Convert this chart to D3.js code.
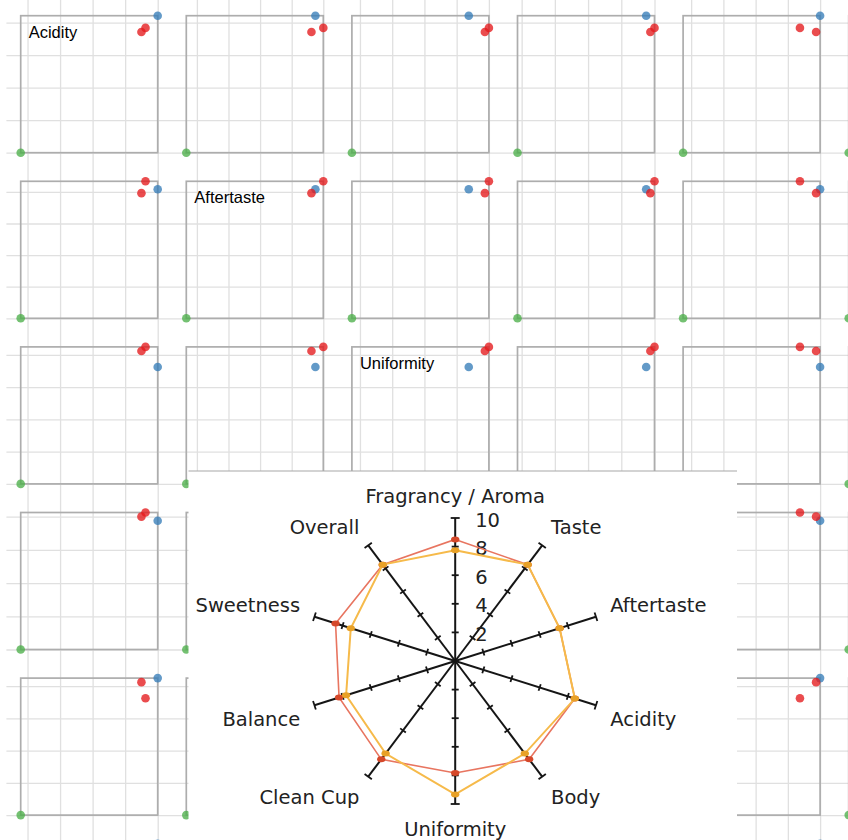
<!DOCTYPE html>
<html><head><meta charset="utf-8">
<script src="https://cdn.jsdelivr.net/npm/d3@7"></script>
<style>
html,body{margin:0;padding:0;background:#fff;overflow:hidden;}
svg{display:block;}
</style></head><body>
<svg id="chart" width="848" height="840"></svg>
<script>
// ---------- scatterplot matrix data ----------
const traits = ["Acidity", "Aftertaste", "Uniformity", "Balance", "Body", "Sweetness"];
const pointNames = ["Sample A", "Sample B", "Sample C", "Sample D"];
const pointColors = ["#4daf4a", "#377eb8", "#e41a1c", "#e41a1c"];
const sampleA = [0, 0, 0, 0, 0, 0];
const sampleB = [8.42, 8.17, 7.25, 7.75, 8.5, 8.5];
const sampleC = [7.42, 7.92, 8.25, 8.0, 8.25, 8.25];
const sampleD = [7.67, 8.67, 8.5, 8.25, 7.25, 8.0];
const gridTicks = [0, 2, 4, 6, 8];

// ---------- radar data ----------
const radarAxes = ["Fragrancy / Aroma", "Taste", "Aftertaste", "Acidity", "Body",
                   "Uniformity", "Clean Cup", "Balance", "Sweetness", "Overall"];
const radarRed = [8.5, 8.33, 7.42, 8.5, 8.5, 7.83, 8.5, 8.25, 8.5, 8.33];
const radarOrange = [7.75, 8.33, 7.42, 8.5, 8.0, 9.33, 8.0, 7.75, 7.42, 8.33];
const radarTicks = [2, 4, 6, 8, 10];

const points = [sampleA, sampleB, sampleC, sampleD].map((v, k) => ({name: pointNames[k], color: pointColors[k], values: v}));

const svg = d3.select("#chart");

// ---------- matrix ----------
const size = 165.6, pad = 28.6, n = traits.length;
const matrix = svg.append("g").attr("transform", "translate(6.4,1.4)");
const domainByTrait = traits.map((t, i) => [0, d3.max(points, p => p.values[i])]);
const xScales = domainByTrait.map(d => d3.scaleLinear().domain(d).range([pad / 2, size - pad / 2]));
const yScales = domainByTrait.map(d => d3.scaleLinear().domain(d).range([size - pad / 2, pad / 2]));

traits.forEach((t, j) => {
  const M = domainByTrait[j][1];
  matrix.append("g").attr("class", "grid").attr("transform", `translate(${j * size},-1.4)`)
    .call(d3.axisBottom(xScales[j]).tickValues(gridTicks.map(v => v + M - 8)).tickSize(size * n + 10).tickFormat(""));
  matrix.append("g").attr("class", "grid").attr("transform", `translate(0,${j * size})`)
    .call(d3.axisRight(yScales[j]).tickValues(gridTicks).tickSize(size * n).tickFormat(""));
});
matrix.selectAll(".grid .domain").remove();
matrix.selectAll(".grid line").attr("stroke", "#e0e0e0").attr("stroke-width", 1.3);

const cells = [];
traits.forEach((r, i) => traits.forEach((c, j) => cells.push({i, j})));
const cell = matrix.selectAll(".cell").data(cells).enter().append("g")
  .attr("transform", d => `translate(${d.j * size},${d.i * size})`);
cell.append("rect")
  .attr("x", pad / 2).attr("y", pad / 2)
  .attr("width", size - pad).attr("height", size - pad)
  .attr("fill", "none").attr("stroke", "#adadad").attr("stroke-width", 1.7);
cell.each(function (d) {
  d3.select(this).selectAll("circle").data(points).enter().append("circle")
    .attr("cx", p => xScales[d.j](p.values[d.j]))
    .attr("cy", p => yScales[d.i](p.values[d.i]))
    .attr("r", 4.3)
    .attr("fill", p => p.color)
    .attr("fill-opacity", 0.78);
});
cell.filter(d => d.i === d.j && d.i < 5).append("text")
  .attr("x", pad / 2 + 8).attr("y", pad / 2 + 22)
  .attr("font-family", "Liberation Sans, Arial, sans-serif")
  .attr("font-size", 16.5).attr("fill", "#000")
  .text(d => traits[d.i]);

// ---------- radar overlay ----------
const radar = svg.append("g");
radar.append("rect").attr("x", 188.5).attr("y", 471).attr("width", 548.5).attr("height", 380).attr("fill", "#fff");
radar.append("line").attr("x1", 188.5).attr("x2", 737).attr("y1", 471).attr("y2", 471)
  .attr("stroke", "#a8a8a8").attr("stroke-width", 1.2);

const cx = 455.2, cy = 661;
const rX = d3.scaleLinear().domain([0, 10]).range([0, 148]);
const rY = d3.scaleLinear().domain([0, 10]).range([0, 143]);
const angle = d3.scaleLinear().domain([0, radarAxes.length]).range([0, 2 * Math.PI]);
const pt = (k, v) => [cx + rX(v) * Math.sin(angle(k)), cy - rY(v) * Math.cos(angle(k))];

radarAxes.forEach((name, k) => {
  const a = angle(k);
  const end = pt(k, 10);
  radar.append("line").attr("x1", cx).attr("y1", cy).attr("x2", end[0]).attr("y2", end[1])
    .attr("stroke", "#151515").attr("stroke-width", 2);
  radarTicks.forEach(v => {
    const p = pt(k, v), h = v === 10 ? 4.5 : 3.5;
    const ux = Math.cos(a), uy = Math.sin(a);
    radar.append("line").attr("x1", p[0] - ux * h).attr("y1", p[1] - uy * h)
      .attr("x2", p[0] + ux * h).attr("y2", p[1] + uy * h)
      .attr("stroke", "#151515").attr("stroke-width", 1.8);
  });
  const s = Math.sin(a), c = Math.cos(a);
  const lx = cx + 163 * s;
  let ly = cy - 166.5 * c + 2.5;
  if (Math.abs(c) < 0.5) ly += -5.5 * Math.sign(c);
  radar.append("text").attr("x", lx).attr("y", ly)
    .attr("text-anchor", Math.abs(s) < 0.01 ? "middle" : (s > 0 ? "start" : "end"))
    .attr("dominant-baseline", "middle")
    .attr("font-family", "DejaVu Sans, sans-serif").attr("font-size", 19.5).attr("fill", "#222")
    .text(name);
});

radar.selectAll(".tl").data(radarTicks).enter().append("text")
  .attr("x", cx + 20).attr("y", v => cy - rY(v) + 3)
  .attr("dominant-baseline", "middle")
  .attr("font-family", "DejaVu Sans, sans-serif").attr("font-size", 19.5).attr("fill", "#222")
  .text(v => v);

const line = d3.line().curve(d3.curveLinearClosed);
[[radarRed, "#e87560", "#d5482a", 1.6], [radarOrange, "#f6ba4a", "#e8a127", 2]].forEach(([vals, lc, mc, w]) => {
  const pts = vals.map((v, k) => pt(k, v));
  radar.append("path").attr("d", line(pts)).attr("fill", "none").attr("stroke", lc).attr("stroke-width", w);
  radar.selectAll(null).data(pts).enter().append("ellipse")
    .attr("cx", p => p[0]).attr("cy", p => p[1]).attr("rx", 4.2).attr("ry", 3)
    .attr("fill", mc);
});
</script>
</body></html>
